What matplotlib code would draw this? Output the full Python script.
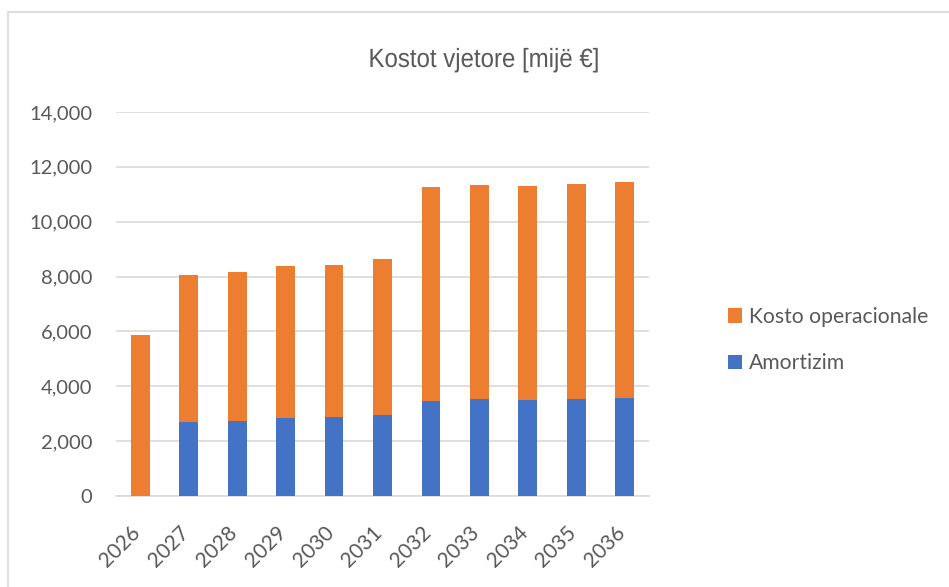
import matplotlib
matplotlib.use("Agg")
import matplotlib.pyplot as plt
from matplotlib.patches import Rectangle
from matplotlib.ticker import FuncFormatter, MultipleLocator
from matplotlib.patheffects import AbstractPathEffect
from matplotlib.transforms import Affine2D, ScaledTranslation

years = ["2026", "2027", "2028", "2029", "2030", "2031", "2032", "2033", "2034", "2035", "2036"]
total = [5870, 8040, 8170, 8370, 8440, 8650, 11260, 11355, 11305, 11390, 11430]
amortizim = [0, 2700, 2745, 2840, 2890, 2950, 3475, 3520, 3490, 3520, 3560]
operacionale = [t - a for t, a in zip(total, amortizim)]

title = "Kostot vjetore [mijë €]"
label_op = "Kosto operacionale"
label_am = "Amortizim"

BLUE = "#4472C4"
ORANGE = "#ED7D31"
GRID = "#D9D9D9"
TXT = "#595959"

plt.rcParams['font.family'] = ['Lato', 'DejaVu Sans']

W, H = 949, 587
fig = plt.figure(figsize=(W / 100, H / 100), dpi=100)
fig.patch.set_facecolor("white")


class Squeeze(AbstractPathEffect):
    """Draw text horizontally compressed around a given display x."""
    def __init__(self, sx, cx):
        super().__init__()
        self.sx = sx
        self.cx = cx

    def draw_path(self, renderer, gc, tpath, affine, rgbFace=None):
        t = affine + Affine2D().translate(-self.cx, 0).scale(self.sx, 1).translate(self.cx, 0)
        renderer.draw_path(gc, tpath, t, rgbFace)


# chart frame
fig.patches.append(Rectangle((8 / W, -0.1), 1.2, 1 - 12 / H + 0.1, transform=fig.transFigure,
                             fill=False, edgecolor=GRID, linewidth=1.2))

left, right = 116 / W, 649 / W
bottom, top = 1 - 496 / H, 1 - 112 / H
ax = fig.add_axes([left, bottom, right - left, top - bottom])

x = list(range(len(years)))
ax.bar(x, amortizim, width=0.39, color=BLUE, label=label_am, zorder=3)
ax.bar(x, operacionale, width=0.39, bottom=amortizim, color=ORANGE, label=label_op, zorder=3)

ax.set_xlim(-0.5, len(years) - 0.5)
ax.set_ylim(0, 14000)
ax.yaxis.set_major_locator(MultipleLocator(2000))
ax.yaxis.set_major_formatter(FuncFormatter(lambda v, p: f"{int(v):,}"))
ax.grid(axis="y", color=GRID, linewidth=1.2, zorder=0)
ax.set_axisbelow(True)
for s in ["top", "right", "left"]:
    ax.spines[s].set_visible(False)
ax.spines["bottom"].set_color(GRID)
ax.spines["bottom"].set_linewidth(1.2)
ax.tick_params(axis="both", length=0, colors=TXT, labelsize=14.5)
ax.tick_params(axis="y", pad=17)
ax.set_xticks(x)
ax.set_xticklabels(years, rotation=45, ha="right", va="center", rotation_mode="anchor",
                   fontsize=15)
ax.tick_params(axis="x", pad=24)
off = ScaledTranslation(-3 / 100, 0, fig.dpi_scale_trans)
for lab in ax.get_xticklabels():
    lab.set_transform(lab.get_transform() + off)

tcx = 484
fig.text(tcx / W, 1 - 60 / H, title, ha="center", va="center", fontsize=19, color=TXT,
         family=['Liberation Sans', 'DejaVu Sans'],
         path_effects=[Squeeze(0.91, tcx)])

handles, labels = ax.get_legend_handles_labels()
leg = fig.legend(handles[::-1], labels[::-1], loc="center left",
                 bbox_to_anchor=(711 / W, 1 - 340 / H), frameon=False,
                 fontsize=15.2, labelcolor=TXT, handlelength=0.68, handleheight=0.68,
                 handletextpad=0.3, labelspacing=1.25, borderpad=0.3)

fig.savefig("out.png", dpi=100)
